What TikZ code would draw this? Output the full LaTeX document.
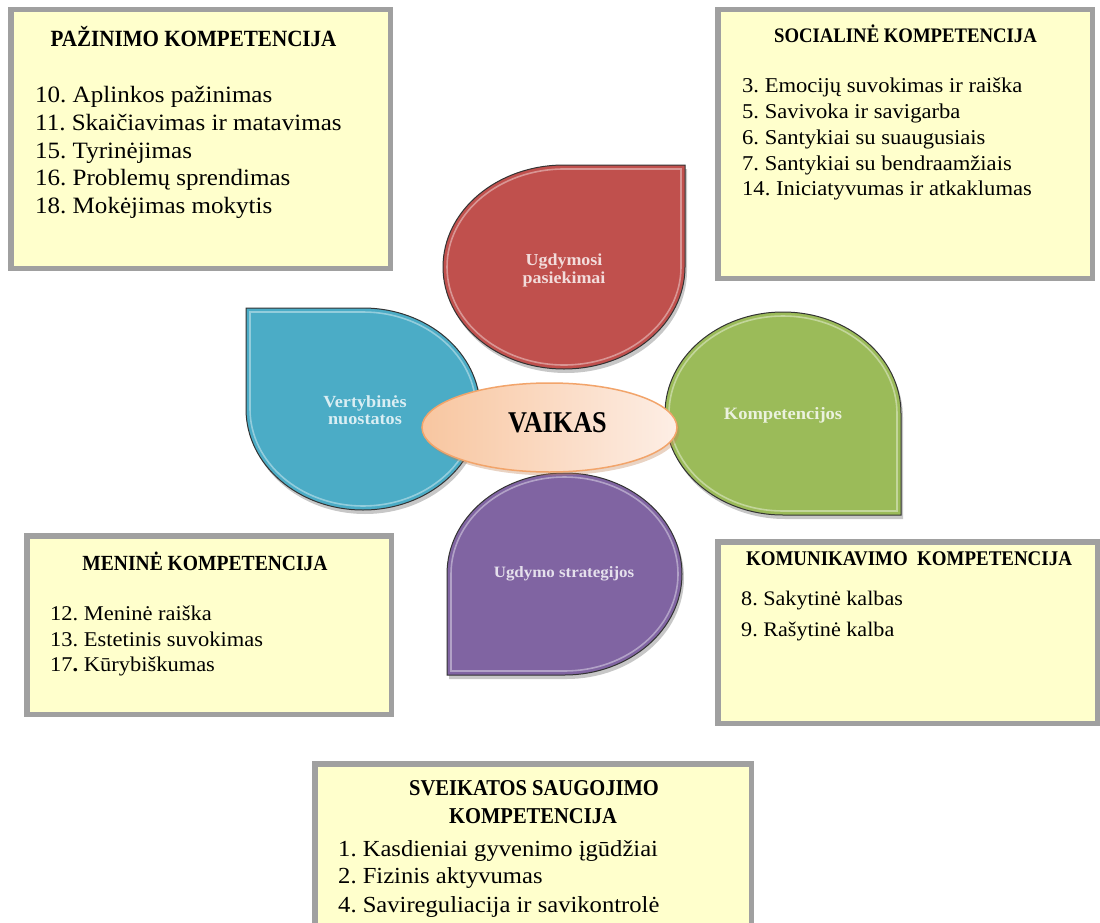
\documentclass[tikz,border=0pt]{standalone}
\usepackage{fontspec}
\setmainfont{Liberation Serif}[FakeStretch=1.07]
\usepackage{graphicx}
\usetikzlibrary{shapes.geometric}
\frenchspacing
\definecolor{boxfill}{HTML}{FFFFCC}
\definecolor{boxline}{HTML}{A0A0A0}
\definecolor{pred}{HTML}{C0504D}
\definecolor{pblue}{HTML}{4BACC6}
\definecolor{pgreen}{HTML}{9BBB59}
\definecolor{ppurple}{HTML}{8064A2}
\definecolor{tred}{HTML}{F2DCDB}
\definecolor{tblue}{HTML}{DAEEF3}
\definecolor{tgreen}{HTML}{EBF1DE}
\definecolor{tpurple}{HTML}{E5E0EC}
\definecolor{elfillA}{HTML}{F8C6A0}
\definecolor{elfillB}{HTML}{FDEEE5}
\definecolor{elline}{HTML}{F2A46A}

\newcommand\fsz[2]{\fontsize{#1}{#2}\selectfont}
\newcommand\tallcaps[2][1.18]{\scalebox{1}[#1]{#2}}

% teardrop paths: cx, cy, rx, ry (pixel coordinates, y downwards)
\newcommand\dropTR[4]{({#1+#3},{#2}) .. controls ({#1+#3},{#2+.5523*#4}) and ({#1+.5523*#3},{#2+#4}) .. ({#1},{#2+#4}) .. controls ({#1-.5523*#3},{#2+#4}) and ({#1-#3},{#2+.5523*#4}) .. ({#1-#3},{#2}) .. controls ({#1-#3},{#2-.5523*#4}) and ({#1-.5523*#3},{#2-#4}) .. ({#1},{#2-#4}) -- ({#1+#3},{#2-#4}) -- cycle}
\newcommand\dropTL[4]{({#1},{#2-#4}) .. controls ({#1+.5523*#3},{#2-#4}) and ({#1+#3},{#2-.5523*#4}) .. ({#1+#3},{#2}) .. controls ({#1+#3},{#2+.5523*#4}) and ({#1+.5523*#3},{#2+#4}) .. ({#1},{#2+#4}) .. controls ({#1-.5523*#3},{#2+#4}) and ({#1-#3},{#2+.5523*#4}) .. ({#1-#3},{#2}) -- ({#1-#3},{#2-#4}) -- cycle}
\newcommand\dropBR[4]{({#1},{#2+#4}) .. controls ({#1-.5523*#3},{#2+#4}) and ({#1-#3},{#2+.5523*#4}) .. ({#1-#3},{#2}) .. controls ({#1-#3},{#2-.5523*#4}) and ({#1-.5523*#3},{#2-#4}) .. ({#1},{#2-#4}) .. controls ({#1+.5523*#3},{#2-#4}) and ({#1+#3},{#2-.5523*#4}) .. ({#1+#3},{#2}) -- ({#1+#3},{#2+#4}) -- cycle}
\newcommand\dropBL[4]{({#1-#3},{#2}) .. controls ({#1-#3},{#2-.5523*#4}) and ({#1-.5523*#3},{#2-#4}) .. ({#1},{#2-#4}) .. controls ({#1+.5523*#3},{#2-#4}) and ({#1+#3},{#2-.5523*#4}) .. ({#1+#3},{#2}) .. controls ({#1+#3},{#2+.5523*#4}) and ({#1+.5523*#3},{#2+#4}) .. ({#1},{#2+#4}) -- ({#1-#3},{#2+#4}) -- cycle}

\newcommand\petal[6]{%
  \pgfmathsetmacro\rxin{#4-4}\pgfmathsetmacro\ryin{#5-4}%
  \fill[black,opacity=.22] #1{#2+2}{#3+4}{#4}{#5};
  \fill[#6, draw=black!80, line width=1pt] #1{#2}{#3}{#4}{#5};
  \draw[white,opacity=.4,line width=1.6pt] #1{#2}{#3}{\rxin}{\ryin};
}

\tikzset{
  box/.style={draw=boxline, fill=boxfill, line width=5.5pt, rectangle, inner sep=0},
  ttl/.style={anchor=base, inner sep=0, text=black},
  itm/.style={anchor=base west, inner sep=0, text=black},
  ptxt/.style={inner sep=0, align=center, font=\bfseries}
}

\begin{document}
\begin{tikzpicture}[x=1pt,y=-1pt]
\useasboundingbox (0,0) rectangle (1100,923);
\clip (0,0) rectangle (1100,923);
\fill[white] (0,0) rectangle (1100,923);

% ---------- boxes ----------
\node (b1) [box, minimum width=379.5pt, minimum height=258.5pt] at (200.5,139) {};
\node (b2) [box, minimum width=374.5pt, minimum height=268.5pt] at (905,144) {};
\node (b3) [box, minimum width=364.5pt, minimum height=178.5pt] at (209,625) {};
\node (b4) [box, minimum width=379.5pt, minimum height=181.5pt] at (907.5,632.5) {};
\node (b5) [box, minimum width=436.5pt, minimum height=193.5pt] at (533,860.5) {};

% box 1
\node (b1t) [ttl] at (193.5,47) {\tallcaps{\fsz{19.7}{22}\bfseries PAŽINIMO KOMPETENCIJA}};
\begin{scope}[every node/.append style={font=\fsz{23.4}{27}}]
\node (b1a) [itm] at (35,103) {10. Aplinkos pažinimas};
\node (b1b) [itm] at (35,130.5) {11. Skaičiavimas ir matavimas};
\node (b1c) [itm] at (35,158) {15. Tyrinėjimas};
\node (b1d) [itm] at (35,185.5) {16. Problemų sprendimas};
\node (b1e) [itm] at (35,213) {18. Mokėjimas mokytis};
\end{scope}

% box 2
\node (b2t) [ttl] at (905.5,43) {\tallcaps{\fsz{17.5}{20}\bfseries SOCIALINĖ KOMPETENCIJA}};
\begin{scope}[every node/.append style={font=\fsz{21.1}{25}}]
\node (b2a) [itm] at (742,93) {3. Emocijų suvokimas ir raiška};
\node (b2b) [itm] at (742,119) {5. Savivoka ir savigarba};
\node (b2c) [itm] at (742,145) {6. Santykiai su suaugusiais};
\node (b2d) [itm] at (742,170.5) {7. Santykiai su bendraamžiais};
\node (b2e) [itm] at (742,195.5) {14. Iniciatyvumas ir atkaklumas};
\end{scope}

% box 3
\node (b3t) [ttl] at (205,570) {\tallcaps{\fsz{18.3}{21}\bfseries MENINĖ KOMPETENCIJA}};
\begin{scope}[every node/.append style={font=\fsz{21}{25}}]
\node (b3a) [itm] at (50,620) {12. Meninė raiška};
\node (b3b) [itm] at (50,646) {13. Estetinis suvokimas};
\node (b3c) [itm] at (50,671) {17\textbf{.} Kūrybiškumas};
\end{scope}

% box 4
\node (b4t) [ttl] at (909,565) {\tallcaps{\fsz{17.7}{20}\bfseries KOMUNIKAVIMO~~KOMPETENCIJA}};
\begin{scope}[every node/.append style={font=\fsz{20.7}{24}}]
\node (b4a) [itm] at (741,605) {8. Sakytinė kalbas};
\node (b4b) [itm] at (741,636) {9. Rašytinė kalba};
\end{scope}

% box 5
\node (b5t) [ttl] at (534,795) {\tallcaps{\fsz{19.2}{22}\bfseries SVEIKATOS SAUGOJIMO}};
\node (b5u) [ttl] at (533,823) {\tallcaps{\fsz{19.2}{22}\bfseries KOMPETENCIJA}};
\begin{scope}[every node/.append style={font=\fsz{23}{27}}]
\node (b5a) [itm] at (338,856) {1. Kasdieniai gyvenimo įgūdžiai};
\node (b5b) [itm] at (338,883.5) {2. Fizinis aktyvumas};
\node (b5c) [itm] at (338,912) {4. Savireguliacija ir savikontrolė};
\end{scope}

% ---------- petals ----------
\petal{\dropTR}{564}{267}{121}{102}{pred}
\petal{\dropTL}{363}{409}{117}{101}{pblue}
\petal{\dropBR}{783}{413.5}{118}{101.5}{pgreen}
\petal{\dropBL}{564.5}{574}{117.5}{101}{ppurple}

\node (p1) [ptxt, text=tred, font=\fsz{16.8}{18}\bfseries] at (564,270) {Ugdymosi\\pasiekimai};
\node (p2) [ptxt, text=tblue, font=\fsz{17}{17}\bfseries] at (365,410) {Vertybinės\\nuostatos};
\node (p3) [ptxt, text=tgreen, font=\fsz{17.3}{20}\bfseries, anchor=base] at (783,419) {Kompetencijos};
\node (p4) [ptxt, text=tpurple, font=\fsz{15.8}{18}\bfseries, anchor=base] at (564,577) {Ugdymo strategijos};

% ---------- centre ellipse ----------
\node (vshadow) [ellipse, minimum width=255pt, minimum height=89pt, inner sep=0, fill=elline!80!black, opacity=.35] at (552,431) {};
\node (vbg) [ellipse, minimum width=255pt, minimum height=89pt, inner sep=0, left color=elfillA, right color=elfillB, draw=elline, line width=1.5pt] at (549.5,427.5) {};
\node (vaikas) [ttl] at (557.5,432) {\tallcaps[1.23]{\fsz{24.5}{28}\bfseries VAIKAS}};
\end{tikzpicture}
\end{document}
